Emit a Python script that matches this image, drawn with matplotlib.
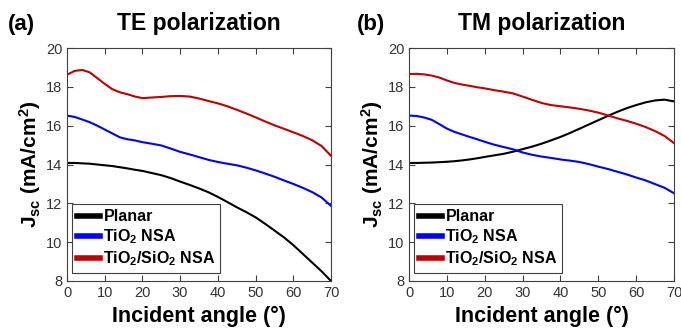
import matplotlib
matplotlib.use("Agg")
import matplotlib.pyplot as plt

plt.rcParams['font.family'] = ['Liberation Sans', 'DejaVu Sans']
plt.rcParams['mathtext.fontset'] = 'custom'
plt.rcParams['mathtext.rm'] = 'Liberation Sans:bold'
plt.rcParams['mathtext.bf'] = 'Liberation Sans:bold'
plt.rcParams['mathtext.it'] = 'Liberation Sans:bold'

# ---- data ----
te_angle = [0, 2, 4, 6, 8, 10, 12, 14, 16, 18, 20, 22.5, 25, 27.5, 30, 32.5, 35, 37.5, 40, 42.5, 45, 47.5, 50, 52.5, 55, 57.5, 60, 62.5, 65, 67.5, 70]
te_planar = [14.08, 14.08, 14.06, 14.04, 14.0, 13.96, 13.92, 13.86, 13.8, 13.73, 13.67, 13.56, 13.45, 13.3, 13.12, 12.95, 12.77, 12.57, 12.33, 12.07, 11.8, 11.55, 11.28, 10.95, 10.6, 10.25, 9.85, 9.4, 8.95, 8.5, 8.0]
te_tio2 = [16.52, 16.45, 16.32, 16.18, 16.0, 15.8, 15.6, 15.4, 15.3, 15.24, 15.15, 15.07, 14.98, 14.82, 14.65, 14.52, 14.38, 14.24, 14.13, 14.04, 13.96, 13.84, 13.7, 13.54, 13.37, 13.18, 13.0, 12.8, 12.58, 12.3, 11.87]
te_tio2sio2 = [18.62, 18.82, 18.87, 18.75, 18.45, 18.15, 17.88, 17.72, 17.62, 17.5, 17.42, 17.45, 17.48, 17.52, 17.53, 17.5, 17.4, 17.27, 17.15, 17.0, 16.82, 16.63, 16.43, 16.22, 16.02, 15.84, 15.66, 15.47, 15.25, 14.95, 14.45]

tm_angle = te_angle
tm_planar = [14.08, 14.08, 14.09, 14.1, 14.12, 14.14, 14.17, 14.21, 14.26, 14.32, 14.39, 14.47, 14.55, 14.66, 14.79, 14.92, 15.07, 15.24, 15.42, 15.62, 15.84, 16.06, 16.28, 16.5, 16.71, 16.9, 17.06, 17.2, 17.3, 17.34, 17.25]
tm_tio2 = [16.52, 16.5, 16.42, 16.3, 16.08, 15.85, 15.68, 15.55, 15.42, 15.3, 15.17, 15.02, 14.9, 14.78, 14.62, 14.5, 14.41, 14.34, 14.26, 14.2, 14.13, 14.02, 13.89, 13.77, 13.63, 13.49, 13.33, 13.18, 12.99, 12.8, 12.52]
tm_tio2sio2 = [18.66, 18.67, 18.64, 18.58, 18.48, 18.33, 18.2, 18.12, 18.05, 17.98, 17.92, 17.83, 17.75, 17.66, 17.5, 17.33, 17.17, 17.06, 17.0, 16.94, 16.87, 16.78, 16.67, 16.53, 16.38, 16.25, 16.1, 15.93, 15.72, 15.47, 15.1]

labels = ['Planar', r'TiO$_\mathbf{2}$ NSA', r'TiO$_\mathbf{2}$/SiO$_\mathbf{2}$ NSA']
colors = ['#000000', '#0000ff', '#c00000']
xticks = [0, 10, 20, 30, 40, 50, 60, 70]
yticks = [8, 10, 12, 14, 16, 18, 20]

fig = plt.figure(figsize=(6.81, 3.33), dpi=100)
W, H = 681, 333
ax1 = fig.add_axes([67 / W, 1 - 281 / H, (331 - 67) / W, (281 - 48) / H])
ax2 = fig.add_axes([409 / W, 1 - 281 / H, (674 - 409) / W, (281 - 48) / H])

panels = [
    (ax1, te_angle, [te_planar, te_tio2, te_tio2sio2], 'TE polarization', '(a)', -42.5),
    (ax2, tm_angle, [tm_planar, tm_tio2, tm_tio2sio2], 'TM polarization', '(b)', -37.5),
]

for ax, x, ys, title, tag, tag_dx in panels:
    for y, c, lab in zip(ys, colors, labels):
        ax.plot(x, y, color=c, lw=1.5, label=lab)
    ax.set_xlim(0, 70)
    ax.set_ylim(8, 20)
    ax.set_xticks(xticks)
    ax.set_yticks(yticks)
    ax.tick_params(direction='in', top=True, right=True, labelsize=10.5,
                   labelcolor='#333333', color='#404040', length=4, width=0.8)
    for s in ax.spines.values():
        s.set_color('#404040')
        s.set_linewidth(0.8)
    ax.set_xlabel('Incident angle (°)', fontsize=15.5, fontweight='bold', labelpad=4)
    ax.set_ylabel(r'$\mathbf{J}_\mathbf{sc}$ (mA/cm$^\mathbf{2}$)', fontsize=15, fontweight='bold', labelpad=2)
    ax.set_title(title, fontsize=16.5, fontweight='bold', pad=13)
    ax.annotate(tag, xy=(0, 1), xycoords='axes fraction', xytext=(tag_dx, 13),
                textcoords='offset points', fontsize=16, fontweight='bold',
                ha='left', va='baseline')
    leg = ax.legend(loc='lower left', bbox_to_anchor=(0.02, 0.035), prop={'weight': 'bold', 'size': 11.5},
                    handlelength=1.45, handletextpad=0.2, labelspacing=0.2, borderpad=0.3,
                    borderaxespad=0.0, fancybox=False, framealpha=1, edgecolor='#404040')
    for h in leg.get_lines():
        h.set_linewidth(4)
    leg.get_frame().set_linewidth(0.8)

fig.savefig('out.png', dpi=100)
